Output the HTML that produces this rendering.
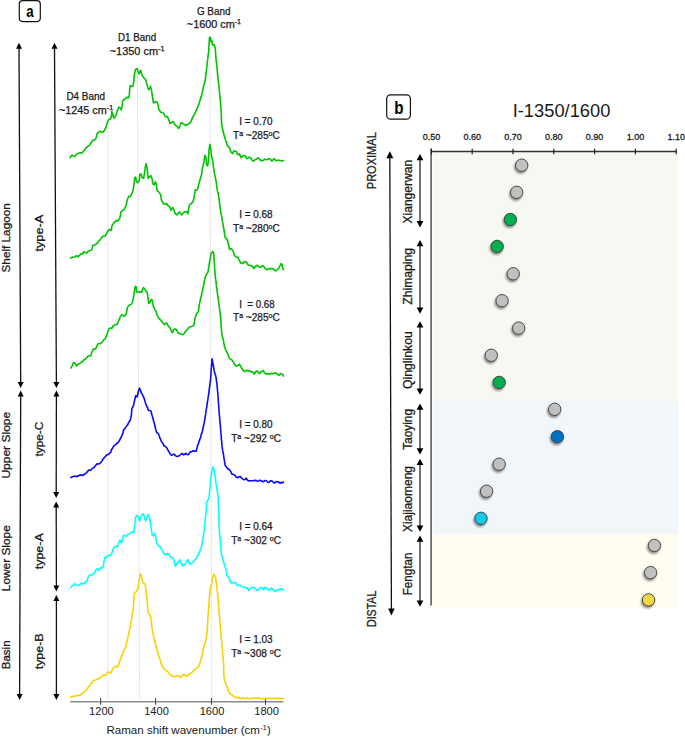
<!DOCTYPE html>
<html><head><meta charset="utf-8"><style>
html,body{margin:0;padding:0;background:#fff;}
svg{display:block;font-family:"Liberation Sans", sans-serif;}
.cb{stroke:#1a1a1a;stroke-width:0.25px;}
.cb2{stroke:#1a1a1a;stroke-width:0.28px;}
</style></head><body>
<svg width="685" height="737" viewBox="0 0 685 737">
<rect width="685" height="737" fill="#fff"/>
<rect x="19.3" y="0.6" width="21" height="21" rx="3.5" ry="3.5" fill="#fff" stroke="#111" stroke-width="1.2"/>
<text x="30" y="17" font-size="16" text-anchor="middle" font-weight="bold" fill="#000" textLength="7.4" lengthAdjust="spacingAndGlyphs">a</text>
<line x1="108.0" y1="122" x2="107.9" y2="700" stroke="#dcdcdc" stroke-width="1" stroke-dasharray="1.3,0.7"/>
<line x1="137.4" y1="70" x2="139.6" y2="700" stroke="#dcdcdc" stroke-width="1" stroke-dasharray="1.3,0.7"/>
<line x1="209.8" y1="38" x2="211.8" y2="700" stroke="#dcdcdc" stroke-width="1" stroke-dasharray="1.3,0.7"/>
<line x1="70.2" y1="701.8" x2="283.5" y2="701.8" stroke="#8a8a8a" stroke-width="1.6"/>
<line x1="100.6" y1="698.0" x2="100.6" y2="704.8" stroke="#4a4a4a" stroke-width="1.1"/>
<line x1="155.6" y1="698.0" x2="155.6" y2="704.8" stroke="#4a4a4a" stroke-width="1.1"/>
<line x1="211.5" y1="698.0" x2="211.5" y2="704.8" stroke="#4a4a4a" stroke-width="1.1"/>
<line x1="265.5" y1="698.0" x2="265.5" y2="704.8" stroke="#4a4a4a" stroke-width="1.1"/>
<text x="101.4" y="715" font-size="11.1" text-anchor="middle" font-weight="normal" fill="#1a1a1a">1200</text>
<text x="156.5" y="715" font-size="11.1" text-anchor="middle" font-weight="normal" fill="#1a1a1a">1400</text>
<text x="212.0" y="715" font-size="11.1" text-anchor="middle" font-weight="normal" fill="#1a1a1a">1600</text>
<text x="266.6" y="715" font-size="11.1" text-anchor="middle" font-weight="normal" fill="#1a1a1a">1800</text>
<text x="106.4" y="733.6" font-size="10.4" fill="#1a1a1a" textLength="164.4" lengthAdjust="spacingAndGlyphs">Raman shift wavenumber (cm<tspan font-size="7" dy="-3.5">-1</tspan><tspan dy="3.5">)</tspan></text>
<polyline points="70.3,157.7 70.8,156.4 71.4,156.3 71.9,155.0 73.1,155.9 74.5,156.6 75.2,156.1 75.8,155.0 76.9,154.0 78.1,153.6 79.3,153.1 80.5,152.7 81.8,153.1 82.6,152.1 83.3,151.5 84.1,150.4 84.8,150.0 85.4,148.5 86.1,147.7 86.7,147.8 87.4,146.7 88.3,145.9 89.2,145.5 90.1,144.4 90.7,143.0 91.2,142.7 91.8,142.1 92.3,140.7 92.9,140.2 94.1,140.2 95.2,139.3 96.1,137.9 96.4,137.3 96.7,135.3 96.9,134.3 97.2,133.9 97.5,132.8 98.5,132.6 99.4,131.4 100.6,131.5 101.7,131.9 103.5,131.9 104.1,130.7 104.7,130.0 105.2,128.6 105.8,128.2 106.0,127.0 106.3,126.3 106.5,125.4 106.7,124.2 107.0,123.3 107.2,122.7 107.7,121.5 108.1,120.8 108.6,119.9 109.5,119.2 110.4,119.0 110.7,117.5 111.1,117.5 111.4,116.2 111.5,115.3 111.6,114.5 111.6,113.1 111.7,113.1 111.8,111.6 112.2,112.9 112.7,113.5 112.9,114.0 113.1,115.2 113.3,116.5 113.5,117.4 113.7,118.1 115.1,117.1 115.5,116.6 115.8,115.0 116.2,114.5 116.5,113.3 116.9,112.1 117.2,111.0 117.5,110.5 117.8,110.0 118.1,109.1 118.4,107.9 118.7,107.0 120.1,107.9 120.7,108.9 121.3,109.8 121.6,108.0 121.9,107.2 122.0,106.0 122.2,105.7 122.3,104.3 122.4,103.1 122.5,102.6 122.7,101.9 122.8,100.7 123.5,100.2 124.2,99.4 125.2,98.6 126.1,98.0 127.5,97.1 128.4,98.0 128.7,97.0 129.0,96.1 129.3,95.2 129.4,94.6 129.4,93.4 129.5,92.3 129.6,91.5 129.6,90.1 129.7,89.1 129.7,88.9 129.8,87.8 130.0,87.2 130.2,85.5 131.6,86.4 133.0,86.0 133.2,85.2 133.3,84.0 133.4,82.9 133.6,82.3 133.8,81.9 133.9,80.5 134.0,79.9 134.0,78.7 134.1,78.1 134.2,76.5 134.3,75.9 134.3,75.4 134.4,74.0 134.6,73.2 134.9,72.1 135.1,71.0 135.3,70.3 136.2,68.9 137.4,68.9 137.6,70.0 137.9,71.5 138.1,72.1 138.6,72.5 139.0,74.0 139.3,73.4 139.6,72.5 139.9,71.2 140.8,70.3 141.0,71.7 141.1,72.4 141.3,73.1 141.8,74.5 142.2,75.3 142.7,76.3 143.3,77.1 143.9,77.8 144.5,78.6 145.2,79.1 145.9,80.5 146.2,82.0 146.5,82.7 146.8,83.7 147.1,84.4 147.3,85.8 147.6,86.8 147.8,87.8 148.2,88.6 148.7,89.7 149.6,88.8 149.9,87.7 150.2,87.0 150.5,86.0 150.7,87.1 150.9,88.0 151.2,88.7 151.4,89.7 151.5,90.1 151.7,91.2 151.8,92.1 152.0,93.5 152.1,94.7 152.3,95.5 152.4,96.1 152.5,97.4 152.7,98.3 152.8,98.6 152.9,100.2 153.0,100.9 153.2,101.2 153.3,102.6 154.7,102.6 155.6,101.6 156.5,101.7 157.2,102.3 157.9,104.0 158.1,105.3 158.2,105.7 158.4,106.6 158.5,108.1 158.7,108.8 158.8,110.0 159.4,110.3 160.1,111.2 160.7,112.3 161.8,112.5 163.0,112.7 163.6,113.3 164.2,114.3 164.7,115.7 165.3,116.4 166.4,116.6 167.6,116.9 168.1,117.9 168.5,119.2 168.8,120.2 169.2,120.8 169.6,122.2 169.9,123.4 171.3,122.9 172.0,122.1 172.7,121.5 173.3,121.9 173.9,122.6 174.5,123.8 175.2,125.1 176.0,125.6 176.7,126.3 177.3,126.6 178.0,127.7 178.7,128.3 179.2,127.7 179.6,126.0 180.1,125.6 180.6,124.1 181.0,123.2 181.5,122.6 182.5,123.5 183.5,123.9 184.5,124.4 185.5,125.6 186.6,125.1 187.6,124.2 188.5,123.9 189.4,123.3 190.3,122.8 190.7,121.6 191.1,121.4 191.5,120.3 191.9,119.1 192.3,118.1 192.8,116.9 193.3,116.6 193.8,115.4 194.3,114.7 194.7,113.9 195.1,112.8 195.5,112.2 195.9,110.7 196.3,110.1 196.7,110.0 197.1,108.6 197.4,108.1 197.8,106.5 198.1,106.2 198.4,104.7 198.8,104.5 199.1,103.3 199.5,102.0 199.8,101.2 200.1,100.0 200.4,98.7 200.7,98.7 200.9,96.8 201.2,96.7 201.5,95.9 201.8,94.4 202.0,93.5 202.2,92.1 202.4,91.9 202.6,91.0 202.8,89.8 203.0,88.6 203.2,87.6 203.5,86.5 203.8,85.5 204.1,84.4 204.3,83.9 204.6,82.7 204.9,81.4 205.2,80.8 205.3,79.5 205.4,79.2 205.5,77.9 205.6,77.2 205.7,76.1 205.8,75.8 206.0,74.9 206.1,73.1 206.2,72.4 206.3,71.6 206.4,71.4 206.5,70.0 206.6,69.4 206.7,68.0 206.8,66.9 206.9,66.5 207.0,65.7 207.1,64.9 207.2,63.3 207.3,63.0 207.4,61.9 207.5,60.7 207.6,59.8 207.7,59.4 207.8,57.6 208.0,57.2 208.1,55.6 208.2,54.7 208.3,54.6 208.5,52.9 208.6,52.3 208.7,51.6 208.7,50.5 208.8,49.8 208.8,48.3 208.9,47.3 208.9,46.3 209.0,45.6 209.1,45.1 209.1,43.9 209.2,43.4 209.2,42.4 209.3,40.6 209.3,40.2 209.4,38.8 209.4,37.8 209.5,37.4 210.3,37.4 210.5,38.0 210.6,39.9 210.8,40.8 210.9,41.5 211.7,40.1 211.9,41.4 212.1,41.8 212.2,43.1 212.4,44.3 212.6,44.9 213.5,44.8 214.4,44.9 214.6,45.9 214.8,46.5 215.0,47.3 215.2,48.4 215.4,49.6 215.5,51.0 215.5,51.6 215.6,52.9 215.6,53.4 215.7,54.1 215.8,55.6 215.8,56.6 215.9,56.7 215.9,58.3 216.0,59.1 216.1,59.6 216.2,60.6 216.3,62.4 216.4,62.4 216.6,63.6 216.7,65.3 216.8,65.7 216.9,66.3 217.0,67.3 217.1,68.6 217.2,69.2 217.3,70.7 217.3,70.9 217.4,72.7 217.5,73.0 217.6,74.6 217.7,75.4 217.8,75.6 217.8,76.5 217.9,77.7 218.0,78.2 218.1,79.5 218.2,80.6 218.3,80.9 218.4,81.8 218.5,83.8 218.6,84.0 218.8,85.3 218.9,86.1 219.0,86.9 219.1,87.6 219.2,89.0 219.3,90.4 219.4,91.4 219.5,92.3 219.6,92.3 219.6,93.4 219.7,94.8 219.8,96.1 219.9,96.6 220.0,97.7 220.1,98.4 220.2,99.5 220.3,100.0 220.4,101.3 220.4,101.9 220.5,102.8 220.6,103.6 220.7,104.7 220.8,106.4 220.9,106.8 220.9,108.0 221.0,108.9 221.1,110.1 221.2,110.6 221.2,111.4 221.2,112.3 221.3,113.3 221.3,114.2 221.3,115.8 221.3,116.8 221.4,117.1 221.4,118.0 221.4,119.2 221.4,120.2 221.5,121.2 221.5,121.8 221.5,123.0 221.7,123.5 221.8,124.7 222.0,125.5 222.2,127.0 222.3,127.4 222.5,128.9 222.8,129.4 223.0,131.0 223.2,131.7 223.5,133.2 223.8,133.9 224.0,134.9 224.3,136.3 224.6,136.5 224.9,137.8 225.2,139.1 225.5,139.8 225.8,140.3 226.1,142.1 226.4,142.2 226.8,143.8 227.1,144.9 227.4,145.3 228.1,146.5 228.7,146.8 229.4,147.8 229.8,148.4 230.2,149.8 230.5,151.3 230.9,151.8 231.7,152.5 232.4,153.7 232.9,153.2 233.4,151.4 233.9,150.8 234.9,151.5 235.9,151.3 236.4,151.6 236.9,152.8 237.4,154.3 237.9,154.7 238.7,154.5 239.4,153.7 239.9,155.1 240.4,156.1 240.8,157.0 241.3,157.7 242.0,157.2 242.6,156.0 243.3,155.7 244.3,155.6 245.3,155.7 245.8,156.3 246.3,157.9 246.8,158.7 247.8,158.1 248.8,157.2 249.8,157.4 250.8,158.2 251.4,158.5 252.1,160.2 252.7,160.8 253.3,161.2 254.2,160.5 255.2,159.7 255.9,159.2 256.7,159.1 257.4,158.1 258.2,157.7 258.8,158.3 259.4,159.0 260.1,159.7 260.7,160.7 261.7,160.2 262.7,160.7 263.7,160.1 264.7,159.2 265.7,159.4 266.7,159.7 267.6,159.3 268.6,158.7 269.6,158.7 270.6,159.7 271.4,160.3 272.1,161.2 272.8,160.0 273.4,159.1 274.1,158.7 274.8,159.1 275.4,160.4 276.1,160.7 277.4,160.3 278.6,160.2 279.6,160.3 280.6,160.7 281.6,160.8 282.5,160.4 283.5,160.7" fill="none" stroke="#00c400" stroke-width="1.6" stroke-linejoin="round" stroke-linecap="round"/>
<polyline points="70.5,258.0 71.3,258.0 72.2,257.0 73.9,257.2 75.0,257.0 76.0,255.9 77.0,256.0 78.1,257.0 78.7,255.7 79.3,255.8 80.0,254.9 80.6,253.8 82.3,254.2 82.9,253.6 83.4,252.3 84.0,251.7 84.8,252.2 85.7,252.7 86.5,253.0 87.3,252.4 88.2,251.2 89.0,250.9 90.2,250.4 91.5,250.0 91.8,249.0 92.0,248.4 92.3,247.8 92.5,246.8 92.8,245.4 93.8,245.2 94.9,245.0 95.9,244.2 96.8,243.3 97.8,242.9 98.5,241.5 99.1,240.7 99.8,240.3 100.4,239.5 100.9,238.5 101.5,237.7 102.0,237.5 102.5,236.2 103.8,236.2 105.0,236.2 105.6,235.4 106.1,234.2 106.7,233.6 107.2,232.1 107.7,231.5 108.2,230.7 108.9,229.7 109.6,229.4 110.4,229.9 111.3,230.3 111.5,229.8 111.6,228.5 111.8,226.9 111.9,226.7 112.1,225.2 112.7,224.7 113.2,223.8 113.8,222.7 114.5,222.4 115.2,221.6 115.9,220.6 117.2,220.9 118.4,220.6 118.8,219.5 119.2,219.2 119.7,218.3 120.1,216.8 120.3,215.4 120.5,215.1 120.6,214.0 120.8,212.8 121.0,211.8 121.8,211.1 122.7,210.4 123.4,209.7 124.1,209.5 124.8,208.3 125.2,207.3 125.6,206.7 126.0,205.4 126.2,204.3 126.4,203.9 126.7,202.9 126.9,201.4 127.1,200.6 127.3,199.5 127.7,198.9 128.2,197.5 128.6,196.2 130.2,196.6 130.8,195.6 131.3,194.3 131.9,193.6 132.2,192.5 132.6,191.9 132.9,190.4 133.2,189.8 133.3,189.3 133.4,187.7 133.5,187.6 133.7,186.0 133.8,185.8 133.9,184.6 134.0,183.5 134.1,182.6 134.3,181.7 134.4,181.0 134.5,180.0 134.6,178.8 134.8,177.8 134.9,177.2 135.7,177.2 135.9,178.3 136.1,179.8 136.4,180.5 136.6,181.4 137.8,182.7 138.4,181.4 139.1,181.0 139.2,180.4 139.3,179.3 139.4,178.6 139.6,176.8 139.7,176.5 139.8,174.8 139.9,174.3 141.2,173.9 141.4,175.0 141.6,175.6 141.8,176.4 142.0,177.7 143.7,178.1 143.8,177.6 144.0,175.8 144.1,175.4 144.2,174.8 144.4,173.2 144.5,172.6 144.7,171.3 144.8,171.1 144.9,169.6 145.1,168.9 145.2,167.2 145.4,166.7 145.7,165.6 145.9,164.4 146.2,163.8 146.4,164.9 146.6,165.2 146.7,167.1 146.9,167.0 147.1,168.4 147.2,169.7 147.3,170.0 147.4,171.3 147.5,172.6 147.6,173.9 147.8,174.2 147.9,175.2 148.0,176.7 148.2,177.4 148.3,178.5 148.9,177.1 149.6,176.8 150.9,175.6 151.2,177.1 151.5,177.1 151.8,177.9 152.1,179.3 152.3,180.1 152.5,181.3 152.6,182.4 152.8,182.6 153.0,184.0 154.2,184.8 154.6,183.7 155.1,182.4 155.5,181.9 155.9,183.1 156.3,184.4 156.4,185.6 156.6,186.5 156.7,187.5 156.8,188.3 156.9,189.3 157.1,190.0 157.2,190.7 158.0,191.3 158.8,192.0 159.4,192.5 159.9,193.8 160.5,194.5 160.7,195.3 160.9,196.1 161.0,197.4 161.2,198.9 161.4,199.5 161.8,200.0 162.2,201.5 162.6,202.2 163.0,203.3 163.8,203.7 164.7,204.1 166.4,203.7 167.0,204.0 167.5,205.6 168.1,205.8 168.9,206.2 169.8,207.1 170.2,208.3 170.6,209.2 171.0,210.4 171.6,208.9 172.1,208.5 172.7,207.5 173.1,208.1 173.6,209.0 174.0,210.5 174.4,211.1 174.7,212.3 175.1,213.8 175.9,213.9 176.7,214.9 177.4,214.2 178.1,213.3 178.7,213.0 179.4,211.6 179.9,212.9 180.5,213.8 181.1,213.8 181.6,214.9 182.4,214.0 183.2,213.3 184.1,212.2 184.9,211.6 185.9,211.7 187.0,211.6 187.4,212.8 187.9,213.8 188.0,213.2 188.2,212.2 188.3,210.8 188.5,210.1 188.6,209.3 188.8,207.9 188.9,207.0 189.1,206.5 189.2,205.7 190.0,204.4 190.8,204.0 191.5,203.5 192.3,202.3 193.0,201.9 193.2,200.6 193.4,199.8 193.7,199.0 193.9,198.1 194.1,197.5 194.2,196.6 194.4,195.6 194.5,194.4 194.6,193.9 194.8,192.4 194.9,192.2 195.1,191.4 195.2,189.9 196.2,190.2 197.3,189.9 197.6,188.8 197.9,187.8 198.1,186.8 198.4,185.6 198.7,184.2 198.9,183.7 199.2,182.9 199.5,181.6 199.7,180.7 200.0,180.2 200.2,179.6 200.5,178.2 200.7,177.4 201.0,176.9 201.2,175.6 201.5,174.3 201.7,173.6 201.8,173.2 201.9,171.7 202.1,170.4 202.2,170.2 202.3,168.7 202.4,168.2 202.6,167.1 202.9,166.8 203.1,165.7 203.3,164.1 203.6,163.6 203.8,162.8 203.9,161.8 204.1,160.9 204.2,159.6 204.4,159.1 204.5,157.6 204.6,156.9 204.8,156.0 204.9,155.2 205.4,156.8 206.0,157.4 206.1,157.9 206.2,159.6 206.2,159.9 206.3,161.3 206.4,162.0 206.4,163.1 206.5,164.3 206.6,165.0 207.6,166.0 207.8,165.0 207.9,163.8 208.1,162.9 208.2,161.9 208.3,161.9 208.5,160.6 208.5,159.8 208.6,159.2 208.6,157.9 208.7,156.2 208.7,155.9 208.7,155.1 208.8,154.1 208.8,152.8 208.9,151.7 208.9,150.9 209.0,149.9 209.2,149.3 209.3,147.8 209.4,147.2 209.5,146.2 209.7,145.7 209.8,144.3 210.1,145.7 210.4,147.0 210.7,147.6 210.8,148.9 210.9,149.3 211.0,150.2 211.1,151.4 211.1,152.1 211.2,153.2 211.3,154.4 211.4,155.2 211.6,156.6 211.8,157.1 212.1,158.2 212.3,158.4 212.5,159.5 212.7,160.6 212.8,162.1 212.9,162.1 213.0,163.4 213.1,163.9 213.3,164.9 213.4,166.7 213.5,167.8 213.6,168.2 213.8,169.3 213.9,169.6 214.1,170.8 214.2,171.6 214.4,173.0 214.5,174.0 214.7,174.7 214.9,175.5 215.1,176.6 215.3,177.0 215.6,178.4 215.8,179.8 216.0,180.2 216.1,181.4 216.2,181.7 216.3,183.1 216.4,184.2 216.6,184.7 216.7,186.3 216.8,186.8 216.9,187.8 217.1,189.0 217.3,189.6 217.5,191.2 217.7,191.9 217.9,192.6 218.1,193.1 218.3,194.4 218.5,195.4 218.6,195.8 218.8,197.4 218.9,198.6 219.1,198.8 219.2,200.1 219.3,201.0 219.5,201.9 219.6,202.9 219.7,204.1 219.9,205.4 220.0,206.2 220.1,206.9 220.2,208.5 220.4,208.8 220.5,210.0 220.7,211.3 220.8,212.2 221.0,213.3 221.2,214.4 221.3,214.7 221.5,216.0 221.7,217.1 221.9,217.9 222.1,219.1 222.2,220.5 222.4,221.1 222.6,221.4 222.8,222.9 223.0,223.9 223.2,225.0 223.3,226.1 223.4,226.7 223.6,227.8 223.8,227.8 223.9,229.7 224.1,230.4 224.2,231.1 224.3,232.4 224.5,232.8 224.6,234.1 224.7,234.2 224.8,235.8 224.9,236.7 225.0,237.3 225.7,237.6 226.3,238.9 227.0,239.3 227.3,240.3 227.6,240.8 227.8,242.3 228.1,242.5 228.4,243.8 228.6,244.8 228.7,245.5 228.9,246.2 229.1,247.5 229.2,248.3 229.4,249.2 230.4,248.6 231.4,248.7 232.2,250.2 232.9,250.7 233.2,251.1 233.5,252.0 233.8,253.4 234.1,254.7 234.4,255.2 235.2,256.1 235.9,256.7 236.9,257.2 237.9,257.2 238.3,258.0 238.7,259.1 239.0,259.6 239.4,260.6 239.9,261.2 240.3,262.3 240.8,263.1 241.8,262.8 242.8,263.6 243.5,262.5 244.1,262.5 244.8,261.6 246.3,262.1 246.8,262.5 247.3,263.9 247.8,264.7 248.3,265.1 249.6,265.2 250.8,265.6 251.8,266.3 252.8,266.6 253.3,267.9 253.8,268.6 254.5,268.0 255.2,266.6 256.2,265.6 257.2,265.4 258.2,265.9 259.2,267.1 260.2,267.0 261.2,267.1 261.9,266.3 262.7,265.6 263.4,266.2 264.0,266.7 264.7,268.1 265.7,268.9 266.7,269.6 267.6,269.6 268.6,268.6 269.6,268.5 270.6,268.6 271.6,268.6 272.6,268.6 273.4,269.1 274.3,269.9 275.1,270.6 276.1,270.8 277.1,270.1 277.8,269.1 278.4,268.6 279.1,267.6 279.6,266.6 280.1,265.6 280.5,265.1 281.0,263.6 282.0,264.1 282.1,264.5 282.3,266.3 282.4,266.6 282.6,267.9 282.7,268.6 283.5,269.6" fill="none" stroke="#00c400" stroke-width="1.6" stroke-linejoin="round" stroke-linecap="round"/>
<polyline points="70.9,368.0 71.6,366.7 72.2,365.9 72.6,364.8 73.1,363.6 73.5,362.6 74.7,363.0 75.4,364.1 76.1,365.1 76.8,365.9 77.5,364.7 78.2,364.0 78.9,363.8 79.8,363.6 80.6,362.6 82.3,362.1 83.0,361.0 83.7,360.1 84.4,359.6 85.2,359.5 86.1,358.3 86.7,357.6 87.2,357.3 87.8,356.2 89.0,355.8 90.7,355.8 91.0,354.8 91.3,354.1 91.7,352.6 92.0,352.0 92.4,351.2 92.8,350.5 93.2,349.1 94.2,349.1 95.3,349.1 95.9,348.3 96.6,347.0 97.0,346.2 97.4,344.6 97.8,344.1 99.5,343.6 101.2,343.2 101.8,342.8 102.3,341.9 102.9,341.1 103.6,340.2 104.3,339.2 105.0,339.0 105.4,338.4 105.9,337.0 106.3,336.1 106.6,335.5 106.9,334.8 107.2,333.8 107.5,332.7 107.8,332.2 108.2,330.7 108.5,330.2 108.8,328.9 109.7,328.4 110.5,328.1 112.1,328.1 112.5,327.5 113.0,326.0 114.2,325.1 115.5,324.7 117.2,324.3 117.6,323.8 118.1,322.0 118.5,321.0 118.9,320.5 119.2,319.3 119.5,319.3 119.8,317.9 120.1,317.1 120.8,316.2 121.4,315.0 122.3,314.9 123.1,315.3 123.9,316.2 124.8,315.8 125.6,315.3 126.0,313.9 126.5,312.8 126.7,311.6 126.8,310.9 127.0,309.8 127.1,309.2 127.3,307.7 127.9,306.9 128.6,305.6 130.2,304.8 131.1,304.4 131.9,303.1 132.2,302.5 132.5,301.7 132.8,300.2 133.1,299.3 133.3,297.6 133.6,296.8 133.7,296.2 133.9,295.4 134.0,294.4 134.1,293.0 134.2,292.2 134.4,290.7 134.5,290.1 134.7,289.5 134.9,288.3 135.1,287.0 135.3,286.3 136.1,286.7 136.2,287.1 136.3,288.9 136.3,290.0 136.4,289.9 136.5,291.6 136.6,292.2 137.8,292.2 139.5,291.8 140.6,291.9 141.6,292.2 142.0,290.6 142.4,289.7 142.9,288.4 143.3,287.6 144.5,288.8 145.2,289.9 145.8,290.5 146.4,291.8 147.1,292.2 147.3,292.6 147.4,294.2 147.6,294.5 147.7,296.1 147.9,296.8 148.0,297.6 148.1,299.1 148.2,300.2 148.4,300.6 148.5,302.1 148.6,302.3 148.7,303.5 150.0,302.3 150.4,301.0 150.8,300.6 151.7,299.3 152.0,300.3 152.2,300.5 152.5,301.9 152.7,302.6 152.9,303.8 153.0,305.0 153.2,305.5 153.4,306.9 154.0,307.4 154.6,309.0 155.2,310.5 155.9,311.1 156.2,311.9 156.6,313.7 156.9,314.7 157.2,315.3 157.7,316.2 158.3,317.3 158.8,318.3 159.7,319.1 160.5,319.9 161.3,320.9 162.2,321.6 162.7,322.5 163.2,323.2 163.8,324.0 164.3,324.6 165.2,324.2 166.0,322.9 167.2,323.7 167.6,324.8 168.1,325.8 168.9,326.6 169.8,327.5 170.2,328.6 170.6,328.9 171.0,330.0 171.4,330.6 171.9,332.3 172.3,332.6 172.7,331.8 173.2,331.0 173.6,329.5 174.0,329.2 174.9,329.1 175.9,329.1 176.4,330.0 176.9,330.3 177.4,331.8 177.9,332.7 178.4,333.4 179.7,333.3 180.9,334.1 182.2,334.5 183.4,334.7 184.0,333.7 184.6,333.0 185.2,331.7 185.8,330.9 186.6,330.4 187.4,329.6 188.2,328.0 189.0,327.8 190.0,326.7 191.1,326.8 192.1,326.0 193.1,325.9 194.0,324.7 194.2,323.4 194.3,322.7 194.5,321.8 194.7,320.6 194.9,319.6 195.0,318.6 195.2,317.8 195.5,316.7 195.8,316.1 196.1,314.8 196.4,314.1 197.0,313.1 197.7,312.7 198.3,311.6 198.4,310.1 198.6,309.7 198.7,309.0 198.9,307.5 199.0,306.5 199.2,306.1 199.3,304.5 199.5,303.5 199.6,302.9 199.8,301.9 200.1,301.2 200.3,299.6 200.5,299.0 200.7,298.0 200.9,297.6 201.2,296.3 201.4,295.4 201.6,294.8 201.8,293.1 202.0,292.3 202.2,291.7 202.5,291.0 202.7,289.5 202.9,288.3 203.1,287.2 203.3,286.7 203.5,285.8 203.7,284.5 203.9,284.2 204.1,283.3 204.2,281.7 204.4,280.8 204.6,280.5 204.8,279.3 205.0,278.6 205.2,277.3 205.7,276.1 206.2,274.8 206.7,274.2 207.3,273.0 207.9,272.3 208.1,271.6 208.2,270.0 208.4,269.0 208.6,268.1 208.7,267.0 208.9,266.1 209.0,265.1 209.2,264.8 209.3,263.0 209.5,262.0 209.6,262.1 209.8,261.1 209.9,260.3 210.1,258.8 210.2,258.0 210.4,257.5 210.6,256.5 210.8,254.7 211.0,254.3 211.2,253.0 211.9,252.7 212.7,251.7 213.7,253.0 213.8,254.1 213.8,254.9 213.9,255.6 213.9,256.6 214.0,257.4 214.1,258.1 214.1,259.7 214.2,260.5 214.3,261.2 214.3,262.7 214.4,262.8 214.4,264.7 214.5,265.4 214.6,266.6 214.6,267.5 214.7,268.4 214.8,269.0 214.8,269.3 214.9,271.0 214.9,271.3 215.0,272.4 215.1,273.7 215.1,274.5 215.2,275.4 215.3,276.2 215.4,277.7 215.5,278.3 215.6,278.9 215.7,279.7 215.9,281.3 216.0,281.7 216.1,283.0 216.2,283.4 216.3,284.2 216.4,285.4 216.5,286.3 216.6,287.6 216.8,287.8 216.9,289.4 217.0,290.4 217.1,291.2 217.2,292.1 217.3,292.1 217.5,293.7 217.6,294.9 217.7,295.4 217.8,295.9 218.0,297.1 218.1,298.0 218.2,299.3 218.4,300.1 218.5,301.2 218.6,302.5 218.8,302.6 218.9,304.1 219.0,304.6 219.2,305.6 219.3,306.6 219.4,307.5 219.6,309.5 219.7,310.4 219.8,310.5 220.0,311.9 220.1,312.9 220.2,313.7 220.3,314.7 220.4,315.8 220.5,317.1 220.6,318.1 220.7,318.8 220.8,320.0 220.9,320.6 220.9,321.8 220.9,322.5 221.0,324.0 221.1,325.2 221.1,325.8 221.1,326.5 221.2,327.9 221.3,328.5 221.4,329.8 221.5,331.0 221.7,332.2 221.8,332.8 221.9,334.2 222.0,334.9 222.2,336.0 222.5,336.8 222.8,337.7 223.0,338.8 223.2,340.0 223.5,340.8 223.7,341.7 223.8,343.0 224.0,343.8 224.2,344.5 224.3,345.8 224.5,346.8 224.9,348.0 225.2,348.3 225.6,349.7 226.0,350.8 226.6,351.7 227.3,353.2 227.9,353.8 228.2,355.3 228.4,355.6 228.7,357.2 228.9,357.7 229.9,358.8 230.9,359.2 231.7,359.7 232.4,360.7 232.9,361.4 233.4,361.8 233.9,363.3 234.4,363.7 235.1,364.7 235.7,365.8 236.4,366.2 237.2,366.0 237.9,365.2 238.7,364.9 239.4,364.2 239.9,365.3 240.4,366.0 240.8,366.3 241.3,367.6 241.8,368.4 242.3,368.6 242.8,369.5 243.3,370.6 244.1,371.4 244.8,371.6 245.6,370.6 246.3,370.6 247.6,370.4 248.8,371.1 249.8,370.8 250.8,371.9 251.8,371.6 252.6,372.1 253.4,372.7 254.2,374.1 254.7,373.7 255.2,372.2 255.7,372.2 256.2,371.1 257.7,371.1 258.2,372.1 258.7,373.1 259.2,373.6 259.9,373.4 260.5,372.4 261.2,371.6 262.2,371.4 263.2,370.6 263.7,370.8 264.2,372.4 264.7,372.9 265.2,373.6 266.4,374.1 267.6,374.1 268.6,373.7 269.6,374.1 270.6,373.9 271.6,373.1 272.9,373.8 274.1,373.6 275.1,372.9 276.1,373.1 276.9,373.6 277.8,374.5 278.6,375.1 279.4,375.0 280.2,373.8 281.0,373.6 282.0,374.1 282.8,374.7 283.5,376.1" fill="none" stroke="#00c400" stroke-width="1.6" stroke-linejoin="round" stroke-linecap="round"/>
<polyline points="70.9,477.6 72.0,476.9 73.0,476.8 74.0,476.1 75.1,476.2 75.9,476.4 76.8,476.8 77.8,475.9 78.9,475.7 80.2,474.9 81.5,475.1 83.1,475.5 83.9,474.5 84.8,473.8 85.5,473.7 86.2,473.0 86.9,472.1 87.6,471.7 88.3,470.4 89.0,470.0 90.3,470.5 91.0,469.9 91.7,469.0 92.4,468.6 93.5,467.5 94.5,467.1 95.1,465.8 95.7,465.4 96.6,464.2 97.4,463.7 98.7,464.0 100.0,463.3 101.2,462.0 101.8,461.4 102.3,460.4 102.9,459.1 103.6,458.7 104.3,457.4 105.0,457.0 105.6,456.1 106.1,455.7 106.7,454.9 107.5,454.7 108.4,454.4 109.2,453.6 110.5,452.4 110.9,451.9 111.3,450.0 111.7,449.7 112.1,448.6 112.7,448.0 113.2,446.9 113.8,446.1 114.5,445.2 115.2,444.9 115.9,444.4 116.7,443.1 117.6,443.2 118.4,441.9 119.0,441.4 119.5,440.2 120.1,439.3 120.5,438.2 120.9,437.9 121.4,436.6 121.8,435.6 122.2,435.1 122.6,433.7 122.9,433.1 123.2,431.8 123.4,430.8 123.7,429.9 124.4,429.1 125.2,428.0 125.9,427.2 126.5,426.0 127.0,425.4 127.5,425.1 128.1,424.0 128.6,422.5 129.1,421.6 129.7,421.3 130.2,420.2 130.4,419.1 130.6,418.5 130.9,417.5 131.1,416.5 131.3,415.8 131.4,415.3 131.5,413.5 131.6,412.7 131.6,411.5 131.7,410.9 131.8,409.6 131.9,408.8 132.3,407.8 132.7,407.4 133.1,406.1 133.5,405.5 133.7,404.6 133.9,404.0 134.2,402.1 134.4,401.1 134.6,400.6 134.8,399.3 135.0,398.9 135.3,397.8 135.5,396.4 135.7,395.7 136.5,396.1 137.3,396.8 137.5,395.5 137.7,394.8 137.9,393.3 138.0,393.1 138.2,392.3 138.4,390.9 138.8,390.5 139.1,389.3 139.5,388.1 139.8,389.5 140.2,389.4 140.5,390.9 140.9,391.5 141.3,393.0 141.8,393.6 142.2,394.1 142.6,394.8 143.0,396.2 143.4,396.7 143.8,397.4 144.1,398.6 144.3,399.0 144.6,399.8 144.9,400.9 145.1,401.5 145.4,402.8 145.7,403.5 146.0,405.0 146.4,405.2 146.7,405.7 147.0,407.1 147.4,407.4 147.8,408.4 148.3,409.9 148.7,410.4 149.8,410.5 150.8,410.9 151.1,411.6 151.4,412.4 151.6,414.3 151.9,414.7 152.1,415.5 152.4,416.2 152.6,417.0 152.9,417.9 153.1,419.0 153.4,420.5 153.6,421.2 153.9,421.7 154.1,422.5 154.4,423.9 154.7,424.6 154.9,426.3 155.2,426.7 155.4,427.3 155.6,428.7 155.9,429.9 156.1,430.5 156.3,431.6 157.0,432.8 157.7,433.0 158.4,433.7 158.7,434.4 159.1,435.6 159.4,436.1 159.8,437.5 160.1,438.6 160.6,439.3 161.1,440.9 161.7,441.8 162.2,442.4 162.6,443.2 163.1,443.5 163.5,444.6 163.9,445.7 164.8,446.1 165.7,446.8 166.6,447.8 167.2,448.5 167.7,450.1 168.2,450.3 168.8,451.6 169.3,451.9 169.9,453.7 170.4,454.1 170.9,454.9 172.0,455.1 173.1,454.3 174.0,454.3 174.8,454.7 175.5,455.8 176.2,456.1 177.0,456.5 178.0,456.3 179.0,455.8 180.0,455.0 180.8,454.3 181.5,453.6 182.6,453.9 183.7,455.0 184.4,454.1 185.2,454.3 185.9,453.3 187.1,454.4 188.2,454.7 188.8,454.4 189.3,453.1 189.8,452.7 190.4,451.8 191.4,451.7 192.4,451.2 193.4,450.6 194.3,451.2 195.2,451.1 196.1,451.3 196.4,450.5 196.6,449.6 196.9,448.2 197.1,447.9 197.4,447.0 197.6,445.1 197.9,444.6 198.2,444.3 198.5,443.4 198.8,442.2 199.2,440.7 199.5,440.8 199.8,439.0 200.1,438.6 200.4,438.2 200.7,436.9 201.0,435.3 201.2,434.5 201.5,434.1 201.8,433.1 202.1,432.4 202.4,431.2 202.6,430.7 202.8,429.0 203.0,427.8 203.2,427.8 203.4,425.9 203.6,425.9 203.8,424.1 204.0,423.9 204.2,422.9 204.4,422.1 204.6,420.7 204.7,419.8 204.9,419.3 205.0,417.6 205.2,417.2 205.3,415.9 205.5,415.5 205.6,414.5 205.8,413.2 205.9,412.3 206.0,410.9 206.2,409.9 206.3,409.6 206.5,408.6 206.6,408.1 206.8,406.9 206.9,405.8 207.0,404.5 207.2,403.8 207.3,403.3 207.4,402.1 207.6,400.6 207.7,400.5 207.9,399.6 208.0,397.8 208.1,397.4 208.3,396.3 208.4,395.8 208.6,394.3 208.7,393.3 208.8,392.7 209.0,392.3 209.1,390.8 209.2,389.4 209.3,388.5 209.4,388.2 209.6,387.6 209.7,386.2 209.8,385.2 209.9,384.8 210.0,383.8 210.1,382.1 210.3,382.1 210.4,380.4 210.5,379.6 210.6,378.9 210.7,378.3 210.7,376.9 210.8,376.4 210.9,374.7 210.9,374.5 211.0,372.8 211.0,371.8 211.1,371.3 211.2,370.1 211.2,369.4 211.3,368.4 211.4,367.9 211.5,366.7 211.5,364.9 211.6,364.3 211.7,363.6 211.8,362.6 211.9,361.8 211.9,360.6 212.0,359.2 212.1,358.7 212.3,359.5 212.5,361.2 212.7,361.7 212.9,363.2 213.1,363.9 213.2,365.4 213.4,365.9 213.6,366.9 213.7,367.8 213.8,368.4 214.0,370.0 214.2,370.4 214.3,371.4 214.6,372.8 214.9,373.0 215.2,374.5 215.5,375.3 215.8,375.9 215.9,376.9 216.0,377.6 216.2,378.2 216.3,379.8 216.4,380.2 216.5,381.5 216.6,381.8 216.8,382.6 216.9,383.6 217.0,384.9 217.1,386.2 217.2,386.4 217.3,388.1 217.3,388.4 217.4,389.6 217.5,390.2 217.6,391.4 217.7,391.8 217.8,393.0 217.8,394.5 217.9,394.6 218.0,396.1 218.1,396.8 218.2,397.5 218.2,398.4 218.3,399.1 218.3,400.0 218.4,402.0 218.5,402.8 218.5,403.6 218.6,404.6 218.7,405.7 218.7,405.7 218.8,407.1 218.8,408.0 218.9,409.0 219.0,410.3 219.0,411.1 219.1,411.7 219.2,413.1 219.3,413.1 219.3,414.6 219.4,415.5 219.5,416.5 219.6,417.2 219.7,418.4 219.7,418.7 219.8,420.3 219.9,420.6 220.0,421.7 220.1,422.9 220.1,423.6 220.2,424.1 220.3,425.2 220.4,425.8 220.5,426.9 220.5,428.1 220.6,429.4 220.7,430.3 220.8,430.6 220.8,431.6 220.9,432.9 221.0,433.3 221.1,434.4 221.1,434.8 221.2,436.0 221.3,437.3 221.3,438.4 221.4,439.2 221.5,440.0 221.6,440.9 221.7,442.5 221.8,443.1 221.8,443.6 221.9,444.5 222.0,446.0 222.2,447.5 222.3,448.5 222.5,449.4 222.7,450.0 222.8,450.7 223.0,451.9 223.2,452.5 223.3,453.6 223.5,454.6 223.7,456.4 223.8,457.3 224.0,457.9 224.1,459.2 224.3,459.5 224.4,460.6 224.6,461.6 224.7,463.3 224.9,463.4 225.0,464.8 225.5,465.9 226.0,466.5 226.5,467.1 227.0,467.8 227.7,468.9 228.4,468.8 229.2,469.7 229.9,470.3 230.4,470.9 230.9,471.8 231.4,472.7 231.9,474.2 232.9,474.2 233.9,474.7 234.6,475.0 235.2,475.6 235.9,476.7 236.9,477.6 237.9,477.5 239.1,476.8 240.3,476.5 241.0,477.7 241.6,478.2 242.3,478.7 243.3,479.5 244.3,479.7 245.3,479.1 246.3,478.2 247.0,479.5 247.6,480.3 248.3,480.7 249.6,480.9 250.8,480.7 252.1,480.7 253.3,480.5 254.5,480.6 255.7,480.2 256.7,480.9 257.7,481.2 258.7,480.8 259.7,480.2 260.7,480.7 261.7,480.8 262.7,481.7 263.5,481.7 264.4,480.9 265.2,480.5 266.2,480.7 267.1,481.5 268.1,482.5 269.1,482.3 270.1,481.0 271.1,480.7 272.0,481.1 272.9,482.0 273.7,482.7 274.6,482.9 275.4,482.2 276.3,481.8 277.1,481.5 277.9,481.9 278.8,481.9 279.6,482.9 280.6,483.1 281.6,482.0 282.5,482.9 283.5,482.2" fill="none" stroke="#0a0aff" stroke-width="1.6" stroke-linejoin="round" stroke-linecap="round"/>
<polyline points="70.6,587.5 71.4,586.7 72.3,585.7 73.0,585.3 73.8,584.6 74.5,583.6 75.6,584.8 76.7,585.1 77.8,585.5 78.9,585.3 79.8,584.9 80.6,583.6 81.7,583.3 82.8,584.0 83.5,583.4 84.2,583.4 84.9,582.3 86.0,581.8 87.1,581.0 87.4,580.6 87.6,578.8 87.9,578.3 88.1,577.2 88.4,576.6 89.1,575.8 89.7,574.9 91.0,575.0 92.3,574.9 93.0,573.8 93.8,573.4 94.5,573.1 94.9,571.9 95.4,571.6 95.8,570.1 96.4,569.7 97.1,568.8 97.9,569.3 98.8,570.5 99.4,570.0 100.0,568.4 100.6,567.9 101.7,568.0 102.7,567.9 103.0,566.6 103.3,565.6 103.6,565.3 103.7,564.6 103.8,562.8 103.9,561.8 104.0,561.0 104.2,560.7 104.5,559.7 104.7,558.1 104.9,557.5 106.0,557.4 107.1,556.2 107.9,555.8 108.8,555.3 110.5,555.8 110.9,555.1 111.4,553.7 111.8,553.2 112.0,552.8 112.2,551.7 112.5,551.1 112.7,549.7 113.2,549.4 113.8,548.0 114.4,547.3 114.9,546.7 116.2,546.3 117.5,546.7 117.8,545.3 118.2,544.3 118.5,543.6 118.8,542.8 119.2,541.8 119.7,540.6 120.3,540.8 120.8,542.3 121.4,542.8 121.7,541.7 122.0,540.8 122.3,540.1 122.6,539.5 122.8,538.2 123.1,537.0 123.3,536.2 123.6,535.3 124.5,535.8 125.3,535.4 126.2,536.2 127.1,536.0 127.9,534.2 128.8,534.0 129.5,533.7 130.3,533.2 131.0,532.3 132.3,532.0 133.6,532.7 133.8,531.9 134.1,530.4 134.3,529.6 134.5,528.4 134.6,526.9 134.7,526.0 134.7,525.2 134.8,525.1 134.9,523.6 135.0,522.3 135.2,521.9 135.3,521.1 135.4,520.1 135.5,518.5 135.7,517.5 135.8,516.7 136.4,516.1 137.1,515.4 137.8,516.4 138.4,516.7 138.7,517.3 139.1,519.1 139.4,520.3 139.7,521.0 140.0,520.3 140.3,518.3 140.7,518.3 141.0,516.7 141.4,515.4 141.9,514.8 142.3,514.1 143.6,514.5 143.9,515.5 144.1,516.7 144.4,517.0 144.6,518.5 144.9,518.9 145.3,520.0 145.7,521.0 146.0,519.9 146.3,519.1 146.7,518.1 147.0,517.6 147.4,516.1 147.9,515.1 148.3,514.5 148.8,515.7 149.2,517.1 149.7,517.6 149.8,518.2 150.0,519.1 150.1,521.1 150.2,521.6 150.4,522.5 150.5,523.6 150.7,524.3 150.8,525.7 150.9,527.0 151.1,527.6 151.2,528.6 151.4,529.7 151.6,530.2 151.7,532.2 151.9,532.2 152.0,533.8 152.2,535.2 152.3,535.8 153.6,535.8 154.2,534.3 154.9,533.6 155.2,534.9 155.4,536.2 155.7,536.7 155.8,537.8 156.0,538.9 156.1,539.1 156.3,540.4 156.4,541.0 156.6,542.3 157.0,543.5 157.5,543.8 157.9,544.9 158.6,545.4 159.4,546.6 160.1,546.6 160.7,547.9 161.2,548.9 161.8,549.2 162.2,550.1 162.7,551.1 163.1,552.4 163.5,553.1 164.4,554.0 165.3,554.9 166.2,554.2 167.0,553.9 167.9,553.6 168.5,553.9 169.0,554.9 169.6,555.8 170.5,557.2 171.4,557.5 173.1,557.5 173.4,559.1 173.8,559.8 174.1,560.7 174.4,561.8 174.6,562.7 174.9,563.5 175.1,564.8 175.3,566.2 175.9,565.6 176.4,564.8 177.0,563.5 177.6,562.6 178.1,562.3 178.7,561.5 179.2,560.7 179.8,559.7 180.2,560.8 180.5,561.7 180.9,562.2 181.3,563.4 181.7,563.8 182.0,564.9 182.4,565.8 183.6,565.7 184.7,565.0 185.2,564.3 185.7,563.0 186.2,562.8 186.7,561.6 187.2,560.7 187.7,559.7 188.2,560.1 188.6,561.6 189.1,562.1 189.5,563.5 190.0,564.2 190.8,563.6 191.5,563.4 192.2,562.7 193.0,562.0 193.6,561.6 194.2,560.3 194.9,559.9 195.5,559.2 196.1,558.2 196.6,557.7 197.1,556.2 197.6,555.9 198.1,555.0 198.6,553.9 199.1,552.8 199.4,552.5 199.8,551.6 200.1,550.2 200.4,549.3 200.7,548.1 201.1,547.9 201.4,546.7 201.6,546.2 201.8,544.8 202.0,544.1 202.2,543.1 202.3,542.2 202.5,540.6 202.7,540.4 202.9,539.1 203.0,538.2 203.2,537.4 203.3,536.1 203.4,535.4 203.6,534.6 203.7,533.5 203.9,532.6 204.0,530.9 204.1,530.1 204.3,529.4 204.4,528.5 204.5,527.7 204.6,526.3 204.7,525.9 204.8,524.8 204.9,523.2 205.0,522.8 205.1,521.5 205.2,520.4 205.3,519.5 205.4,518.8 205.5,517.7 205.6,516.8 205.7,515.6 205.8,515.2 205.9,514.1 206.0,513.3 206.1,512.5 206.1,511.5 206.2,510.1 206.3,509.9 206.3,507.9 206.4,507.4 206.4,506.2 206.5,505.4 206.6,504.1 206.6,503.9 206.7,502.6 207.2,501.5 207.6,500.2 208.1,500.0 208.5,498.5 209.0,498.0 209.1,497.1 209.2,496.0 209.2,495.3 209.3,494.8 209.4,493.7 209.5,492.3 209.6,491.8 209.7,490.7 209.8,489.5 209.8,488.3 209.9,487.9 210.0,486.9 210.1,486.4 210.2,485.5 210.2,484.2 210.3,483.0 210.4,482.7 210.5,481.3 210.6,479.8 210.7,479.0 210.9,478.6 211.0,477.8 211.1,476.4 211.2,476.0 211.3,475.4 211.5,473.9 211.6,473.0 211.7,472.2 211.9,471.0 212.1,470.2 212.2,470.0 212.4,468.5 212.6,468.2 212.8,466.8 213.4,468.1 213.9,468.4 214.0,469.4 214.2,470.0 214.3,471.7 214.4,472.1 214.6,472.9 214.7,473.7 214.8,475.4 215.0,475.8 215.1,476.7 215.2,477.4 215.3,478.5 215.5,479.0 215.6,480.4 215.7,481.1 215.8,481.8 216.0,483.3 216.1,484.2 216.2,484.2 216.3,485.7 216.5,486.3 216.6,487.4 216.8,488.8 216.9,489.5 217.0,489.9 217.2,490.8 217.3,491.6 217.5,493.4 217.7,493.5 217.8,494.8 217.9,495.6 218.1,496.5 218.1,497.6 218.2,498.4 218.2,499.5 218.2,499.7 218.3,501.4 218.3,501.8 218.3,502.9 218.4,503.6 218.4,504.5 218.4,505.7 218.5,506.5 218.5,507.3 218.5,508.6 218.6,509.4 218.6,510.2 218.6,510.6 218.7,511.8 218.7,512.9 218.7,514.3 218.8,515.2 218.8,515.7 218.8,516.1 218.8,517.8 218.9,518.4 218.9,519.4 218.9,520.5 219.0,521.3 219.0,522.1 219.0,523.5 219.0,523.8 219.1,524.7 219.1,526.1 219.1,526.3 219.2,527.4 219.2,528.5 219.3,529.8 219.4,529.8 219.4,531.6 219.5,532.4 219.6,533.0 219.7,533.7 219.8,535.2 219.8,536.3 219.9,536.3 220.0,537.6 220.1,538.6 220.2,539.5 220.2,540.2 220.3,540.9 220.4,542.2 220.5,543.2 220.6,544.4 220.6,544.5 220.7,545.6 220.8,547.1 220.9,548.0 220.9,548.8 221.0,549.0 221.1,550.7 221.2,551.9 221.3,552.8 221.3,553.4 221.4,553.6 221.5,555.0 221.8,556.4 222.1,556.7 222.4,558.1 222.7,559.4 223.0,559.9 223.3,561.1 223.6,561.5 223.9,562.7 224.2,564.4 224.5,564.9 224.8,565.5 225.1,567.0 225.4,567.8 225.7,568.5 226.0,569.9 226.2,571.0 226.3,571.4 226.4,572.4 226.6,573.7 226.8,574.3 226.9,575.8 227.6,576.0 228.2,577.2 228.9,577.8 229.3,579.1 229.7,580.2 230.1,580.4 230.5,581.7 230.9,582.8 231.9,582.6 232.9,582.8 233.9,582.7 234.9,582.3 235.7,583.0 236.4,583.8 237.2,585.2 237.9,585.7 238.9,585.3 239.9,585.2 240.9,585.5 241.8,586.7 242.8,587.2 243.8,587.2 245.1,587.3 246.3,588.2 247.3,587.7 247.8,588.8 248.3,589.7 248.8,590.7 249.3,590.3 249.8,589.1 250.3,588.2 251.6,587.8 252.8,587.2 253.8,587.4 254.7,588.2 255.5,589.1 256.4,589.6 257.2,590.7 257.9,590.3 258.5,589.4 259.2,588.7 260.2,587.7 261.2,587.5 261.9,587.9 262.5,588.8 263.2,589.7 263.9,589.1 264.5,587.7 265.2,587.2 266.0,588.1 266.8,588.7 267.6,589.2 268.4,589.2 269.1,590.2 269.8,589.7 270.4,588.4 271.1,588.2 271.9,588.3 272.6,589.2 273.3,590.0 273.9,590.2 274.6,591.2 275.6,591.1 276.6,590.2 277.9,589.9 279.1,589.7 280.1,589.0 281.0,588.7 281.8,589.5 282.7,589.2 283.5,590.2" fill="none" stroke="#00ffff" stroke-width="1.6" stroke-linejoin="round" stroke-linecap="round"/>
<polyline points="70.5,697.0 71.8,696.9 73.0,696.2 74.3,696.4 75.6,695.9 76.8,695.7 78.1,695.5 79.3,695.0 80.6,695.1 81.4,693.9 82.3,693.8 83.2,693.1 84.0,692.1 84.7,691.5 85.4,691.3 86.1,690.4 86.6,689.4 87.2,689.0 87.7,687.7 88.2,687.1 88.8,686.7 89.5,685.9 90.1,684.8 90.7,684.1 91.4,683.2 92.1,682.4 92.8,681.2 93.8,680.5 94.9,680.4 96.0,679.8 97.0,679.1 98.2,679.0 99.5,678.3 100.3,677.4 101.2,677.0 101.8,676.5 102.5,675.3 103.8,675.3 105.0,674.9 105.8,674.9 106.7,674.1 107.3,672.9 107.9,672.0 109.2,672.4 110.1,672.4 110.9,673.2 111.3,672.6 111.7,671.6 112.1,670.3 112.7,669.4 113.2,668.1 113.8,667.7 114.8,666.8 115.9,666.5 117.0,666.6 118.0,666.5 118.3,665.3 118.7,665.1 119.0,663.7 119.3,662.7 119.6,661.4 120.0,660.9 120.3,659.5 120.7,659.2 121.0,657.7 121.3,657.3 121.7,656.0 122.0,655.3 122.4,654.6 122.7,653.5 123.1,652.6 123.5,651.0 124.0,650.5 124.5,648.5 125.1,647.9 125.6,647.1 125.8,646.3 126.0,645.1 126.3,644.5 126.5,643.0 126.7,643.0 126.9,641.7 127.1,640.3 127.4,640.0 127.6,638.7 127.8,638.0 128.0,636.8 128.2,636.2 128.4,635.0 128.6,634.1 128.8,634.0 128.9,632.9 129.1,631.3 129.3,631.2 129.5,629.5 129.7,629.0 129.9,628.7 130.1,627.4 130.3,626.6 130.4,625.3 130.6,624.5 130.7,623.6 130.9,622.4 131.1,622.4 131.2,620.5 131.4,620.0 131.5,619.4 131.7,618.2 131.8,617.2 132.0,616.9 132.1,615.2 132.3,615.1 132.4,614.1 132.6,612.9 132.8,612.3 132.9,610.9 133.0,610.4 133.2,609.1 133.3,608.5 133.3,607.2 133.4,606.2 133.5,605.6 133.6,604.3 133.6,603.0 133.7,602.8 133.8,601.3 133.8,600.6 133.9,600.0 134.0,598.4 134.0,597.3 134.1,596.5 134.2,596.0 134.3,594.8 134.3,593.8 134.4,593.1 135.3,592.3 136.2,591.6 136.7,591.3 137.2,589.8 137.7,589.3 137.9,588.2 138.1,587.8 138.3,586.5 138.4,585.2 138.6,584.4 138.8,583.4 139.0,582.5 139.1,581.2 139.2,580.5 139.3,579.5 139.4,579.1 139.6,577.6 139.7,577.1 139.8,576.5 139.9,575.5 140.0,574.1 141.2,574.8 141.4,575.6 141.6,576.7 141.8,577.3 141.9,578.3 142.1,579.3 142.3,580.2 142.7,581.5 143.1,582.7 143.5,583.2 145.0,584.0 145.2,584.7 145.3,585.4 145.5,586.9 145.6,587.4 145.8,588.3 145.9,590.1 146.1,590.8 146.2,591.3 146.3,593.0 146.4,593.6 146.5,595.2 146.6,596.1 146.7,596.2 146.8,597.3 146.9,599.1 147.0,599.7 147.1,600.4 147.2,601.5 147.3,602.8 147.4,603.8 147.4,604.4 147.5,605.3 147.6,605.9 147.7,607.1 147.8,607.9 147.9,609.3 147.9,610.3 148.0,610.7 148.1,612.1 148.6,613.2 149.1,613.5 149.7,614.4 150.2,615.9 150.7,616.7 150.8,617.6 150.9,619.0 151.0,619.7 151.2,620.7 151.3,621.0 151.4,622.7 151.5,622.8 151.6,624.3 151.7,625.6 151.9,626.5 152.0,627.5 152.1,627.9 152.2,628.9 152.4,630.1 152.6,631.1 152.8,631.4 152.9,633.2 153.1,634.1 153.3,634.5 153.5,635.9 153.7,636.5 153.9,637.5 154.2,638.3 154.4,639.8 154.7,640.1 154.9,641.9 155.2,642.6 155.4,644.0 155.7,644.2 155.9,645.8 156.1,645.8 156.3,647.5 156.6,647.8 156.8,649.5 157.0,649.8 157.3,651.3 157.5,651.7 157.8,652.1 158.1,653.1 158.4,654.9 158.7,655.7 158.9,656.5 159.2,656.9 159.5,658.0 159.8,659.3 160.1,660.0 160.4,660.5 160.7,662.4 160.9,663.0 161.2,664.1 161.5,664.7 161.8,665.2 162.1,666.2 162.7,666.5 163.2,668.0 163.8,668.0 164.4,669.2 165.2,669.8 165.9,670.3 166.7,670.9 167.4,671.5 168.0,671.8 168.6,672.5 169.1,673.8 169.7,674.5 170.5,674.5 171.2,675.5 172.0,676.0 173.0,676.0 174.0,676.8 175.2,676.4 176.3,676.4 177.4,675.7 178.6,675.7 179.3,676.4 180.1,676.8 180.8,677.6 181.4,676.5 181.9,675.7 182.5,675.3 183.1,674.5 184.1,675.1 185.0,674.8 185.9,675.5 186.9,676.4 187.7,675.4 188.4,674.9 189.2,674.2 190.0,673.8 190.8,673.3 191.5,673.0 192.2,672.2 193.0,671.5 193.8,670.4 194.6,669.8 195.3,669.0 196.1,668.4 197.2,667.6 198.3,666.9 198.6,665.9 199.0,665.7 199.3,664.3 199.6,663.6 199.9,662.8 200.3,661.8 200.6,660.8 200.8,660.3 201.1,658.9 201.3,658.4 201.5,657.8 201.7,656.1 202.0,655.7 202.2,654.7 202.4,653.6 202.6,652.3 202.8,651.3 202.9,651.2 203.1,649.5 203.3,649.2 203.5,647.6 203.7,647.1 204.0,646.0 204.3,644.7 204.6,644.3 204.8,643.6 205.1,642.0 205.4,641.5 205.7,640.9 206.0,639.5 206.2,638.3 206.3,637.6 206.4,636.9 206.6,636.1 206.8,634.4 206.9,634.0 207.0,632.4 207.2,631.9 207.2,630.6 207.3,630.6 207.3,628.7 207.4,628.7 207.4,627.6 207.5,626.6 207.5,625.8 207.6,624.8 207.6,623.5 207.7,622.7 207.8,621.6 207.8,621.4 207.8,620.4 207.9,619.5 207.9,617.9 208.0,617.4 208.0,616.2 208.1,615.8 208.1,614.9 208.2,613.7 208.3,613.3 208.3,612.1 208.4,611.2 208.5,610.4 208.5,608.8 208.6,608.4 208.7,606.9 208.7,606.4 208.8,605.2 208.8,605.2 208.9,603.3 209.0,603.4 209.0,602.5 209.1,601.0 209.2,600.6 209.2,598.8 209.3,598.4 209.4,597.1 209.5,596.0 209.6,595.2 209.7,594.2 209.8,594.2 209.8,592.5 209.9,592.1 210.0,590.9 210.1,589.8 210.2,589.3 210.4,588.3 210.6,587.1 210.9,587.1 211.1,585.5 211.3,584.7 211.5,583.8 211.7,582.8 211.9,581.8 212.0,580.7 212.2,579.4 212.4,578.7 212.7,577.4 213.0,577.3 213.3,575.6 213.6,575.0 213.9,574.1 214.4,575.2 214.9,575.7 215.4,576.4 215.5,577.8 215.7,578.6 215.8,579.2 215.9,579.7 216.1,581.1 216.2,581.9 216.3,583.3 216.5,583.8 216.6,584.7 216.7,585.9 216.8,587.0 216.9,587.6 217.0,589.0 217.1,590.0 217.3,590.2 217.4,592.0 217.5,592.9 217.6,593.8 217.7,594.2 217.8,595.4 217.9,596.0 217.9,596.8 218.0,598.0 218.1,599.4 218.2,599.8 218.2,600.3 218.3,601.6 218.4,602.2 218.5,603.8 218.5,604.8 218.6,605.9 218.7,605.9 218.8,607.1 218.8,607.8 218.9,609.1 219.0,610.5 219.0,611.3 219.1,611.9 219.2,613.3 219.3,613.7 219.3,614.9 219.4,615.5 219.5,616.3 219.6,617.9 219.6,618.6 219.7,619.2 219.8,620.5 219.9,621.1 219.9,622.2 220.0,622.8 220.1,623.3 220.2,624.3 220.2,625.2 220.3,626.7 220.4,627.8 220.4,628.1 220.5,629.5 220.6,630.0 220.7,631.6 220.8,632.6 220.8,632.8 220.9,634.7 221.0,635.3 221.0,635.7 221.1,636.9 221.2,638.0 221.3,638.6 221.4,640.1 221.5,641.3 221.6,641.4 221.7,642.3 221.8,643.8 221.8,645.0 221.9,645.8 222.0,646.4 222.1,647.0 222.2,648.4 222.3,649.2 222.4,650.2 222.5,651.5 222.6,652.2 222.7,653.3 222.7,654.5 222.8,655.0 222.9,656.3 223.0,656.5 223.1,657.2 223.2,659.1 223.2,659.1 223.3,661.1 223.4,661.4 223.5,662.4 223.5,662.8 223.6,664.0 223.6,665.4 223.6,665.9 223.6,667.1 223.7,667.4 223.7,669.2 223.7,669.6 223.8,671.0 223.8,671.1 223.8,672.6 223.9,673.3 223.9,674.1 223.9,674.6 223.9,676.1 224.0,677.4 224.0,677.9 224.3,678.4 224.6,679.8 224.9,680.3 225.2,682.4 225.5,682.8 225.9,684.3 226.3,685.0 226.6,685.8 227.0,686.3 227.4,687.8 227.8,688.4 228.2,690.0 228.6,691.1 229.0,692.3 229.4,692.8 230.2,694.0 231.1,694.3 231.9,695.2 232.7,695.4 233.4,696.2 234.2,696.5 234.9,697.2 235.9,697.3 236.9,697.8 237.9,697.5 238.9,697.8 239.9,698.2 240.9,698.7 241.9,698.4 242.9,697.7 243.8,698.5 244.8,698.4 245.8,698.2 246.8,698.4 247.8,697.8 248.8,698.8 249.8,698.4 250.8,698.5 251.8,698.5 252.8,698.1 253.8,698.0 254.8,698.0 255.8,698.2 256.7,698.3 257.7,698.1 258.7,698.0 259.7,698.5 260.6,698.8 261.5,698.7 262.4,698.9 263.3,698.2 264.2,698.8 265.1,698.6 266.0,698.0 266.9,698.9 267.8,698.3 268.7,698.2 269.6,698.5 270.5,698.2 271.5,699.0 272.4,698.2 273.3,698.4 274.2,698.6 275.2,698.3 276.1,698.7 277.0,698.0 277.9,698.4 278.9,698.6 279.8,698.6 280.7,698.6 281.6,698.2 282.6,698.7 283.5,698.5" fill="none" stroke="#fad200" stroke-width="1.6" stroke-linejoin="round" stroke-linecap="round"/>
<text x="118" y="40.8" font-size="10" text-anchor="start" font-weight="normal" fill="#1a1a1a" textLength="38.1" lengthAdjust="spacingAndGlyphs" class="cb">D1 Band</text>
<text x="109.7" y="54.6" font-size="10" fill="#1a1a1a" textLength="54.7" lengthAdjust="spacingAndGlyphs" class="cb">~1350 cm<tspan font-size="6.5" dy="-4">-1</tspan></text>
<text x="196.9" y="14.5" font-size="10" text-anchor="start" font-weight="normal" fill="#1a1a1a" textLength="33.5" lengthAdjust="spacingAndGlyphs" class="cb">G Band</text>
<text x="186.8" y="28.2" font-size="10" fill="#1a1a1a" textLength="54.2" lengthAdjust="spacingAndGlyphs" class="cb">~1600 cm<tspan font-size="6.5" dy="-4">-1</tspan></text>
<text x="66.4" y="100.1" font-size="10" text-anchor="start" font-weight="normal" fill="#1a1a1a" textLength="38.5" lengthAdjust="spacingAndGlyphs" class="cb">D4 Band</text>
<text x="58.9" y="113.9" font-size="10" fill="#1a1a1a" textLength="54.2" lengthAdjust="spacingAndGlyphs" class="cb">~1245 cm<tspan font-size="6.5" dy="-4">-1</tspan></text>
<text x="239.2" y="124.7" font-size="10" fill="#1a1a1a" xml:space="preserve" textLength="33.4" lengthAdjust="spacingAndGlyphs" class="cb">I = 0.70</text>
<text x="233.0" y="138.6" font-size="10" fill="#1a1a1a" xml:space="preserve" textLength="46.8" lengthAdjust="spacingAndGlyphs" class="cb">T<tspan font-size="7" dy="-3">a</tspan><tspan dy="3"> ~285</tspan><tspan font-size="7" dy="-3">o</tspan><tspan dy="3">C</tspan></text>
<text x="239.2" y="217.5" font-size="10" fill="#1a1a1a" xml:space="preserve" textLength="33.4" lengthAdjust="spacingAndGlyphs" class="cb">I = 0.68</text>
<text x="233.0" y="231.7" font-size="10" fill="#1a1a1a" xml:space="preserve" textLength="46.8" lengthAdjust="spacingAndGlyphs" class="cb">T<tspan font-size="7" dy="-3">a</tspan><tspan dy="3"> ~280</tspan><tspan font-size="7" dy="-3">o</tspan><tspan dy="3">C</tspan></text>
<text x="239.2" y="307.7" font-size="10" fill="#1a1a1a" xml:space="preserve" textLength="35.5" lengthAdjust="spacingAndGlyphs" class="cb">I  = 0.68</text>
<text x="233.0" y="321.4" font-size="10" fill="#1a1a1a" xml:space="preserve" textLength="46.8" lengthAdjust="spacingAndGlyphs" class="cb">T<tspan font-size="7" dy="-3">a</tspan><tspan dy="3"> ~285</tspan><tspan font-size="7" dy="-3">o</tspan><tspan dy="3">C</tspan></text>
<text x="239.2" y="427.9" font-size="10" fill="#1a1a1a" xml:space="preserve" textLength="33.4" lengthAdjust="spacingAndGlyphs" class="cb">I = 0.80</text>
<text x="231.2" y="441.5" font-size="10" fill="#1a1a1a" xml:space="preserve" textLength="49.8" lengthAdjust="spacingAndGlyphs" class="cb">T<tspan font-size="7" dy="-3">a</tspan><tspan dy="3"> ~292 </tspan><tspan font-size="7" dy="-3">o</tspan><tspan dy="3">C</tspan></text>
<text x="239.2" y="530.2" font-size="10" fill="#1a1a1a" xml:space="preserve" textLength="33.4" lengthAdjust="spacingAndGlyphs" class="cb">I = 0.64</text>
<text x="231.2" y="544.0" font-size="10" fill="#1a1a1a" xml:space="preserve" textLength="49.8" lengthAdjust="spacingAndGlyphs" class="cb">T<tspan font-size="7" dy="-3">a</tspan><tspan dy="3"> ~302 </tspan><tspan font-size="7" dy="-3">o</tspan><tspan dy="3">C</tspan></text>
<text x="239.2" y="643.4" font-size="10" fill="#1a1a1a" xml:space="preserve" textLength="33.4" lengthAdjust="spacingAndGlyphs" class="cb">I = 1.03</text>
<text x="231.2" y="657.2" font-size="10" fill="#1a1a1a" xml:space="preserve" textLength="49.8" lengthAdjust="spacingAndGlyphs" class="cb">T<tspan font-size="7" dy="-3">a</tspan><tspan dy="3"> ~308 </tspan><tspan font-size="7" dy="-3">o</tspan><tspan dy="3">C</tspan></text>
<line x1="19.0" y1="48" x2="20.7" y2="383" stroke="#111" stroke-width="1.3"/>
<polygon points="19.0,42.8 16.0,48.8 22.0,48.8" fill="#000"/>
<polygon points="20.7,388 17.7,382 23.7,382" fill="#000"/>
<line x1="20.7" y1="396" x2="19.6" y2="695" stroke="#111" stroke-width="1.3"/>
<polygon points="20.7,390.5 17.7,396.5 23.7,396.5" fill="#000"/>
<polygon points="19.6,700.1 16.6,694.1 22.6,694.1" fill="#000"/>
<line x1="54.5" y1="48" x2="56.4" y2="383" stroke="#111" stroke-width="1.3"/>
<polygon points="54.5,42.8 51.5,48.8 57.5,48.8" fill="#000"/>
<polygon points="56.4,388 53.4,382 59.4,382" fill="#000"/>
<line x1="56.4" y1="396" x2="56.2" y2="493" stroke="#111" stroke-width="1.3"/>
<polygon points="56.4,390.5 53.4,396.5 59.4,396.5" fill="#000"/>
<polygon points="56.2,498 53.2,492 59.2,492" fill="#000"/>
<line x1="56.2" y1="507" x2="56.4" y2="586" stroke="#111" stroke-width="1.3"/>
<polygon points="56.2,501.5 53.2,507.5 59.2,507.5" fill="#000"/>
<polygon points="56.4,591.5 53.4,585.5 59.4,585.5" fill="#000"/>
<line x1="56.4" y1="600" x2="56.4" y2="695" stroke="#111" stroke-width="1.3"/>
<polygon points="56.4,595 53.4,601 59.4,601" fill="#000"/>
<polygon points="56.4,700.1 53.4,694.1 59.4,694.1" fill="#000"/>
<text transform="translate(9.6,272.5) rotate(-90)" font-size="11.2" fill="#1a1a1a" textLength="69.3" lengthAdjust="spacingAndGlyphs" class="cb2">Shelf Lagoon</text>
<text transform="translate(9.8,478.6) rotate(-90)" font-size="11.2" fill="#1a1a1a" textLength="66.8" lengthAdjust="spacingAndGlyphs" class="cb2">Upper Slope</text>
<text transform="translate(9.8,591.2) rotate(-90)" font-size="11.2" fill="#1a1a1a" textLength="66.0" lengthAdjust="spacingAndGlyphs" class="cb2">Lower Slope</text>
<text transform="translate(9.8,669.3) rotate(-90)" font-size="11.2" fill="#1a1a1a" textLength="28.9" lengthAdjust="spacingAndGlyphs" class="cb2">Basin</text>
<text transform="translate(42.7,251.6) rotate(-90)" font-size="11.2" fill="#1a1a1a" textLength="37.0" lengthAdjust="spacingAndGlyphs" class="cb2">type-A</text>
<text transform="translate(42.7,456.6) rotate(-90)" font-size="11.2" fill="#1a1a1a" textLength="35.0" lengthAdjust="spacingAndGlyphs" class="cb2">type-C</text>
<text transform="translate(42.7,569.2) rotate(-90)" font-size="11.2" fill="#1a1a1a" textLength="35.9" lengthAdjust="spacingAndGlyphs" class="cb2">type-A</text>
<text transform="translate(42.7,669.3) rotate(-90)" font-size="11.2" fill="#1a1a1a" textLength="35.9" lengthAdjust="spacingAndGlyphs" class="cb2">type-B</text>
<rect x="386.7" y="94.8" width="23.7" height="24.4" rx="4" ry="4" fill="#fff" stroke="#111" stroke-width="1.2"/>
<text x="399" y="113.8" font-size="17.5" text-anchor="middle" font-weight="bold" fill="#000" textLength="9.3" lengthAdjust="spacingAndGlyphs">b</text>
<text x="512.7" y="116.9" font-size="17.5" text-anchor="start" font-weight="normal" fill="#1a1a1a" textLength="97.7" lengthAdjust="spacingAndGlyphs">I-1350/1600</text>
<rect x="432.5" y="151.5" width="245.5" height="249.5" fill="#f6f9f2"/>
<rect x="432.5" y="401" width="245.5" height="133" fill="#f1f6fa"/>
<rect x="432.5" y="534" width="245.5" height="74" fill="#fffcf0"/>
<line x1="431.1" y1="151.5" x2="676.3" y2="151.5" stroke="#333" stroke-width="1.4"/>
<line x1="431.1" y1="148.4" x2="431.1" y2="605.4" stroke="#666" stroke-width="1.7"/>
<line x1="431.4" y1="148.8" x2="431.4" y2="154.2" stroke="#222" stroke-width="1.2"/>
<text x="431.4" y="139.8" font-size="9" text-anchor="middle" font-weight="normal" fill="#1a1a1a" class="cb2">0.50</text>
<line x1="472.2" y1="148.8" x2="472.2" y2="154.2" stroke="#222" stroke-width="1.2"/>
<text x="472.2" y="139.8" font-size="9" text-anchor="middle" font-weight="normal" fill="#1a1a1a" class="cb2">0.60</text>
<line x1="513.0" y1="148.8" x2="513.0" y2="154.2" stroke="#222" stroke-width="1.2"/>
<text x="513.0" y="139.8" font-size="9" text-anchor="middle" font-weight="normal" fill="#1a1a1a" class="cb2">0.70</text>
<line x1="553.8" y1="148.8" x2="553.8" y2="154.2" stroke="#222" stroke-width="1.2"/>
<text x="553.8" y="139.8" font-size="9" text-anchor="middle" font-weight="normal" fill="#1a1a1a" class="cb2">0.80</text>
<line x1="594.5999999999999" y1="148.8" x2="594.5999999999999" y2="154.2" stroke="#222" stroke-width="1.2"/>
<text x="594.5999999999999" y="139.8" font-size="9" text-anchor="middle" font-weight="normal" fill="#1a1a1a" class="cb2">0.90</text>
<line x1="635.4" y1="148.8" x2="635.4" y2="154.2" stroke="#222" stroke-width="1.2"/>
<text x="635.4" y="139.8" font-size="9" text-anchor="middle" font-weight="normal" fill="#1a1a1a" class="cb2">1.00</text>
<line x1="676.1999999999999" y1="148.8" x2="676.1999999999999" y2="154.2" stroke="#222" stroke-width="1.2"/>
<text x="676.1999999999999" y="139.8" font-size="9" text-anchor="middle" font-weight="normal" fill="#1a1a1a" class="cb2">1.10</text>
<line x1="389.8" y1="157" x2="391.4" y2="609.5" stroke="#111" stroke-width="1.3"/>
<polygon points="389.8,151.3 386.3,158.3 393.3,158.3" fill="#000"/>
<polygon points="391.4,615.6 388.09999999999997,608.6 394.7,608.6" fill="#000"/>
<text transform="translate(376.0,189.2) rotate(-90)" font-size="12" fill="#1a1a1a" textLength="57.0" lengthAdjust="spacingAndGlyphs" class="cb2">PROXIMAL</text>
<text transform="translate(376.0,627.0) rotate(-90)" font-size="12" fill="#1a1a1a" textLength="36.3" lengthAdjust="spacingAndGlyphs" class="cb2">DISTAL</text>
<line x1="420" y1="158.9" x2="420" y2="222.4" stroke="#111" stroke-width="1.2"/>
<polygon points="420,153.9 416.6,160.20000000000002 423.4,160.20000000000002" fill="#000"/>
<polygon points="420,227.4 416.6,221.1 423.4,221.1" fill="#000"/>
<text transform="translate(411.8,223.5) rotate(-90)" font-size="12" fill="#1a1a1a" textLength="63.6" lengthAdjust="spacingAndGlyphs" class="cb2">Xiangerwan</text>
<line x1="420" y1="244.9" x2="420" y2="308.7" stroke="#111" stroke-width="1.2"/>
<polygon points="420,239.9 416.6,246.20000000000002 423.4,246.20000000000002" fill="#000"/>
<polygon points="420,313.7 416.6,307.4 423.4,307.4" fill="#000"/>
<text transform="translate(411.8,304.7) rotate(-90)" font-size="12" fill="#1a1a1a" textLength="56.7" lengthAdjust="spacingAndGlyphs" class="cb2">Zhimaping</text>
<line x1="420" y1="326.3" x2="420" y2="389.7" stroke="#111" stroke-width="1.2"/>
<polygon points="420,321.3 416.6,327.6 423.4,327.6" fill="#000"/>
<polygon points="420,394.7 416.6,388.4 423.4,388.4" fill="#000"/>
<text transform="translate(411.8,389.0) rotate(-90)" font-size="12" fill="#1a1a1a" textLength="57.8" lengthAdjust="spacingAndGlyphs" class="cb2">Qinglinkou</text>
<line x1="420" y1="408.5" x2="420" y2="449.6" stroke="#111" stroke-width="1.2"/>
<polygon points="420,403.5 416.6,409.8 423.4,409.8" fill="#000"/>
<polygon points="420,454.6 416.6,448.3 423.4,448.3" fill="#000"/>
<text transform="translate(411.8,449.7) rotate(-90)" font-size="12" fill="#1a1a1a" textLength="40.7" lengthAdjust="spacingAndGlyphs" class="cb2">Taoying</text>
<line x1="420" y1="463.7" x2="420" y2="526.8" stroke="#111" stroke-width="1.2"/>
<polygon points="420,458.7 416.6,465.0 423.4,465.0" fill="#000"/>
<polygon points="420,531.8 416.6,525.5 423.4,525.5" fill="#000"/>
<text transform="translate(411.8,532.1) rotate(-90)" font-size="12" fill="#1a1a1a" textLength="66.1" lengthAdjust="spacingAndGlyphs" class="cb2">Xiajiaomeng</text>
<line x1="420" y1="540.5" x2="420" y2="601.8" stroke="#111" stroke-width="1.2"/>
<polygon points="420,535.5 416.6,541.8 423.4,541.8" fill="#000"/>
<polygon points="420,606.8 416.6,600.5 423.4,600.5" fill="#000"/>
<text transform="translate(411.8,595.3) rotate(-90)" font-size="12" fill="#1a1a1a" textLength="42.8" lengthAdjust="spacingAndGlyphs" class="cb2">Fengtan</text>
<defs><filter id="sh" x="-50%" y="-50%" width="200%" height="200%"><feGaussianBlur in="SourceAlpha" stdDeviation="1.2"/><feOffset dx="-0.8" dy="1.6" result="o"/><feComponentTransfer><feFuncA type="linear" slope="0.45"/></feComponentTransfer><feMerge><feMergeNode/><feMergeNode in="SourceGraphic"/></feMerge></filter></defs>
<circle cx="521.7" cy="165.2" r="6.2" fill="#c0c0c0" stroke="#3a3a3a" stroke-width="0.9" filter="url(#sh)"/>
<circle cx="516.7" cy="192.3" r="6.2" fill="#c0c0c0" stroke="#3a3a3a" stroke-width="0.9" filter="url(#sh)"/>
<circle cx="510.4" cy="219.5" r="6.2" fill="#00b050" stroke="#3a3a3a" stroke-width="0.9" filter="url(#sh)"/>
<circle cx="497.2" cy="246.4" r="6.2" fill="#00b050" stroke="#3a3a3a" stroke-width="0.9" filter="url(#sh)"/>
<circle cx="513.2" cy="273.8" r="6.2" fill="#c0c0c0" stroke="#3a3a3a" stroke-width="0.9" filter="url(#sh)"/>
<circle cx="502.1" cy="300.7" r="6.2" fill="#c0c0c0" stroke="#3a3a3a" stroke-width="0.9" filter="url(#sh)"/>
<circle cx="518.7" cy="328.1" r="6.2" fill="#c0c0c0" stroke="#3a3a3a" stroke-width="0.9" filter="url(#sh)"/>
<circle cx="491.3" cy="355.3" r="6.2" fill="#c0c0c0" stroke="#3a3a3a" stroke-width="0.9" filter="url(#sh)"/>
<circle cx="499.2" cy="382.4" r="6.2" fill="#00b050" stroke="#3a3a3a" stroke-width="0.9" filter="url(#sh)"/>
<circle cx="554.7" cy="409.3" r="6.2" fill="#c0c0c0" stroke="#3a3a3a" stroke-width="0.9" filter="url(#sh)"/>
<circle cx="557.4" cy="436.7" r="6.2" fill="#0070c0" stroke="#3a3a3a" stroke-width="0.9" filter="url(#sh)"/>
<circle cx="499.2" cy="464.2" r="6.2" fill="#c0c0c0" stroke="#3a3a3a" stroke-width="0.9" filter="url(#sh)"/>
<circle cx="486.6" cy="491.2" r="6.2" fill="#c0c0c0" stroke="#3a3a3a" stroke-width="0.9" filter="url(#sh)"/>
<circle cx="481.0" cy="518.3" r="6.2" fill="#14c8ec" stroke="#3a3a3a" stroke-width="0.9" filter="url(#sh)"/>
<circle cx="654.5" cy="545.4" r="6.2" fill="#c0c0c0" stroke="#3a3a3a" stroke-width="0.9" filter="url(#sh)"/>
<circle cx="650.6" cy="572.6" r="6.2" fill="#c0c0c0" stroke="#3a3a3a" stroke-width="0.9" filter="url(#sh)"/>
<circle cx="648.6" cy="599.9" r="6.2" fill="#f0d840" stroke="#3a3a3a" stroke-width="0.9" filter="url(#sh)"/>
</svg>
</body></html>
